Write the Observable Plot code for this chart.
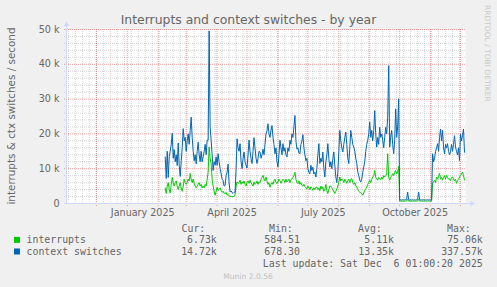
<!DOCTYPE html>
<html>
<head>
<meta charset="utf-8">
<script src="https://cdn.jsdelivr.net/npm/d3@7"></script>
<script src="https://cdn.jsdelivr.net/npm/@observablehq/plot@0.6"></script>
<style>
  html, body { margin: 0; padding: 0; background: #f0f0f0; }
  #chart svg { display: block; }
</style>
</head>
<body>
<div id="chart"></div>
<script>
const DAY = 864e5;
const graphStart = new Date(Date.UTC(2024, 10, 1, 1, 0, 20));
const graphEnd = new Date(Date.UTC(2025, 11, 6, 1, 0, 20));
const firstSample = Date.UTC(2025, 1, 8, 1, 0, 0);

// daily values, thousands per second (from 2025-02-08 to 2025-12-05)
const interrupts = [
  4.4, 2.9, 5, 6, 4, 3, 5.5, 7.5, 6, 5,
  6, 6.5, 5, 4, 5, 6, 4.5, 3.5, 5, 7,
  6, 5.5, 6, 7, 6.5, 8.6, 7, 6, 7, 5.8,
  5, 4.5, 5, 5.5, 6, 5, 5.5, 4.5, 5, 4.5,
  5.5, 5, 7, 9, 16.2, 13, 11.4, 7, 5, 3.5,
  2.4, 3.5, 4.7, 3.8, 4, 4.5, 3.8, 3.2, 3.5, 3,
  2.8, 3.2, 2.4, 2.6, 2.2, 2, 2.1, 1.9, 2, 2,
  2.5, 5, 6.2, 5.8, 6, 6.7, 5.5, 6.2, 5.8, 6.5,
  5.5, 5, 6, 6.5, 5.8, 6.7, 6, 5.5, 5, 6.2,
  5.5, 5.8, 6.5, 5.5, 6.2, 6, 7, 7.5, 8.1, 7,
  6.5, 7.6, 6.5, 5.5, 6, 4.7, 5.5, 6, 5.5, 6.5,
  7, 6, 5.8, 6.2, 7, 6.5, 5.8, 6.5, 7, 6.7,
  6, 7, 6.2, 6.5, 7, 6, 6.8, 7, 7.5, 8,
  9, 7, 6, 5.7, 6.5, 5.5, 6, 5.2, 5, 5.5,
  4.8, 4.5, 4.2, 5, 4.5, 4, 4.8, 4.3, 3.8, 4.5,
  4, 4.7, 4.7, 4, 4.5, 3.7, 5, 4.2, 4.8, 3.5,
  4, 5.5, 3.8, 2.9, 4, 5, 5, 4.5, 4, 3.5,
  2.9, 3.5, 4.2, 5, 6, 7.6, 6.5, 7, 6.7, 6,
  7, 6.5, 5.8, 6.5, 7, 6, 7, 7.2, 6, 5.5,
  6, 5.2, 4.7, 4, 3.5, 3.3, 3, 2.8, 2.4, 3,
  3.8, 4.2, 4.7, 5.5, 6, 6.7, 6, 7, 7.6, 8,
  9.5, 7.5, 7, 6.7, 7.5, 7, 6.8, 7.6, 7, 8,
  7.6, 8, 8.5, 14.3, 7.5, 6.7, 7.5, 8, 8.6, 8,
  9, 9.5, 8.5, 9, 10.7, 0.7, 0.7, 0.65, 0.7, 0.7,
  0.65, 0.7, 0.75, 1.2, 0.7, 0.65, 0.7, 0.7, 0.65, 0.7,
  0.7, 0.65, 0.7, 0.75, 1.2, 0.7, 0.65, 0.7, 0.7, 0.65,
  0.7, 0.7, 0.65, 0.7, 0.7, 0.65, 0.7, 0.7, 5.8, 6.2,
  6.7, 6, 7.6, 7, 8, 8.6, 7, 7.5, 6.7, 7.5,
  8, 7, 8.1, 7.5, 7, 7.1, 6.5, 7.5, 7.6, 7,
  6.5, 7, 5.8, 6.5, 7, 7.6, 8, 8.5, 9, 8,
  6.73
];
const ctxSwitches = [
  13.4, 7.2, 15, 7.5, 13.5, 15, 17, 20.2, 13, 15.5,
  12, 14, 10.9, 17.4, 11, 7.8, 12, 16, 21.5, 18,
  19, 15, 18, 20, 17, 21, 24.8, 19, 15, 12.3,
  14, 11.4, 15, 17.6, 14, 12, 15, 12, 13.4, 15,
  17, 14, 18.2, 18.2, 49.6, 22, 18.2, 14, 9.5, 12,
  11, 13.4, 11, 14.3, 12, 10, 8.5, 7, 6.6, 5,
  5.2, 8, 9, 11.3, 6, 3.3, 3.6, 3.1, 2.9, 3.2,
  3.3, 10, 18.6, 16, 15, 17.2, 12, 10, 13, 14.8,
  12, 11, 10.2, 14, 18.2, 15, 13, 11.5, 15, 18.9,
  16, 13, 11.5, 13, 15, 14.8, 13, 14, 15.6, 14,
  17, 20, 21, 22.9, 20, 19, 21, 22.4, 19, 17,
  14.3, 16, 12, 10.5, 14, 18.2, 16, 14, 17.2, 15,
  16, 14, 13.4, 16, 15, 18.2, 17, 20, 19, 22,
  25.3, 18, 15.6, 16, 14.5, 14.3, 17, 18, 19.8, 16,
  14, 12.3, 13, 10, 9, 8.5, 11, 9.5, 10.4, 8.5,
  9, 7.6, 10, 14, 17.2, 11.5, 13, 12, 14.8, 10,
  7.6, 12, 14, 17.2, 13, 10.5, 12, 10, 13, 14.8,
  11, 7.6, 6, 9, 15, 21, 18, 16, 14.8, 17,
  19, 20.5, 17, 13, 11.5, 16, 21, 19, 17, 16.2,
  15, 13, 11.5, 9, 8, 6.7, 6.2, 7, 9, 10.5,
  12, 15, 17, 18.2, 20, 23.4, 19, 21, 18, 21,
  26.7, 20, 16.2, 19, 17, 21.9, 19, 20, 18.2, 16,
  19, 21.9, 20, 24.8, 39.6, 16.2, 19, 21, 17, 14.3,
  18, 27.2, 19, 22, 30.1, 1.0, 1.05, 1.0, 1.1, 1.0,
  1.05, 1.1, 1.2, 3.3, 1.1, 1.0, 1.05, 1.0, 1.1, 1.0,
  1.05, 1.0, 1.1, 1.2, 3.3, 1.1, 1.0, 1.05, 1.0, 1.1,
  1.0, 1.05, 1.0, 1.1, 1.0, 1.05, 1.0, 1.1, 14.3, 12,
  13, 15, 16, 17.2, 15, 19, 21.4, 18, 21, 16,
  14.3, 17, 16, 17.2, 15, 14, 14.8, 17, 15, 17,
  19.5, 16.2, 15, 14, 16, 12.3, 20, 18, 19.5, 21.4,
  14.72
];

const yTickValues = [0, 10, 20, 30, 40, 50];
const yTickLabels = ["0", "10 k", "20 k", "30 k", "40 k", "50 k"];
const yMajor = [10, 20, 30, 40, 50];
const yMinor = [2, 4, 6, 8, 12, 14, 16, 18, 22, 24, 26, 28, 32, 34, 36, 38, 42, 44, 46, 48];
const xLabelText = ["January 2025", "April 2025", "July 2025", "October 2025"];
const xLabelDates = [Date.UTC(2025, 0, 16, 12), Date.UTC(2025, 3, 16), Date.UTC(2025, 6, 16, 12), Date.UTC(2025, 9, 16, 12)].map(t => new Date(t));

const seriesNames = ["interrupts", "context switches"];
const seriesColors = ["#00CC00", "#0066B3"];
const curValues = ["6.73k", "14.72k"];
const minValues = ["584.51", "678.30"];
const avgValues = ["5.11k", "13.35k"];
const maxValues = ["75.06k", "337.57k"];
const legendHeaders = ["Cur:", "Min:", "Avg:", "Max:"];

const title = "Interrupts and context switches - by year";
const yLabel = "interrupts & ctx switches / second";
const lastUpdate = "Last update: Sat Dec  6 01:00:20 2025";
const footer = "Munin 2.0.56";
const watermark = "RRDTOOL / TOBI OETIKER";

const rows = ctxSwitches.map((v, i) => ({date: new Date(firstSample + i * DAY), ctx: v, intr: interrupts[i]}));
const months = d3.utcMonth.range(d3.utcMonth.ceil(graphStart), graphEnd);
const weeks = d3.utcSunday.range(graphStart, graphEnd);

const FONT = "'DejaVu Sans', sans-serif";
const MONO = "'DejaVu Sans Mono', monospace";
const TXT = "#666666";
const AXIS = "#CFD6F8";
const GRID = "rgba(143,143,143,0.38)";
const MGRID = "rgba(222,79,79,0.55)";

const chart = Plot.plot({
  width: 497, height: 287,
  marginLeft: 66, marginRight: 32, marginTop: 29, marginBottom: 84,
  x: {type: "utc", domain: [graphStart, graphEnd], axis: null},
  y: {domain: [0, 50], axis: null},
  style: {background: "#f0f0f0", fontFamily: FONT, overflow: "visible"},
  marks: [
    Plot.frame({fill: "#ffffff", stroke: "none"}),
    Plot.ruleY(yMinor, {stroke: GRID, strokeDasharray: "1,1", insetLeft: -2}),
    Plot.ruleX(weeks, {stroke: GRID, strokeDasharray: "1,1", insetBottom: -2}),
    Plot.ruleY(yMajor, {stroke: MGRID, strokeDasharray: "1,1", insetLeft: -2}),
    Plot.ruleX(months, {stroke: MGRID, strokeDasharray: "1,1", insetBottom: -3}),
    Plot.line(rows, {x: "date", y: "intr", stroke: seriesColors[0], strokeWidth: 1}),
    Plot.line(rows, {x: "date", y: "ctx", stroke: seriesColors[1], strokeWidth: 1}),
    Plot.ruleY([0], {stroke: AXIS, insetRight: -5, insetLeft: -2}),
    Plot.ruleX([graphStart], {stroke: AXIS, insetTop: -4}),
    Plot.dot([graphStart], {x: d => d, y: () => 50, symbol: "triangle", r: 2, fill: AXIS, stroke: "none", dy: -5}),
    Plot.dot([graphEnd], {x: d => d, y: () => 0, symbol: "triangle", r: 2, fill: AXIS, stroke: "none", rotate: 90, dx: 6.5}),
    Plot.text(yTickValues, {x: () => graphStart, y: d => d, text: (d, i) => yTickLabels[i], textAnchor: "end", dx: -7, fontSize: 9.6, fill: TXT, fontFamily: FONT}),
    Plot.text(xLabelDates, {x: d => d, y: () => 0, text: (d, i) => xLabelText[i], dy: 9.5, fontSize: 9.6, fill: TXT, fontFamily: FONT})
  ]
});
document.getElementById("chart").appendChild(chart);

// titles, legend and footer
const svg = d3.select(chart);
const g = svg.append("g").style("white-space", "pre").attr("text-anchor", "start");
g.append("text").attr("x", 248.5).attr("y", 24).attr("text-anchor", "middle")
  .attr("font-family", FONT).attr("font-size", 12.4).attr("fill", TXT).text(title);
g.append("text").attr("transform", "translate(14.5,116) rotate(-90)").attr("text-anchor", "middle")
  .attr("font-family", FONT).attr("font-size", 10.4).attr("fill", TXT).text(yLabel);
g.append("text").attr("transform", "translate(485,5) rotate(90)").attr("text-anchor", "start")
  .attr("font-family", FONT).attr("font-size", 7.5).attr("fill", "#c8c8c8").text(watermark);

const headerX = [181.5, 269, 358, 447];
legendHeaders.forEach((h, i) => {
  g.append("text").attr("x", headerX[i]).attr("y", 231.8).attr("text-anchor", "start").attr("font-family", MONO)
    .attr("font-size", 9.9).attr("fill", TXT).text(h);
});
const rowY = [243.4, 255];
const colRight = [216.8, 300, 394, 482.8];
seriesNames.forEach((name, i) => {
  g.append("rect").attr("x", 14).attr("y", rowY[i] - 6.5).attr("width", 6).attr("height", 6).attr("fill", seriesColors[i]);
  g.append("text").attr("x", 26.5).attr("y", rowY[i]).attr("text-anchor", "start").attr("font-family", MONO)
    .attr("font-size", 9.9).attr("fill", TXT).text(name);
  [curValues[i], minValues[i], avgValues[i], maxValues[i]].forEach((v, j) => {
    g.append("text").attr("x", colRight[j]).attr("y", rowY[i]).attr("text-anchor", "end")
      .attr("font-family", MONO).attr("font-size", 9.9).attr("fill", TXT).text(v);
  });
});
g.append("text").attr("x", 482.8).attr("y", 267.3).attr("text-anchor", "end")
  .attr("font-family", MONO).attr("font-size", 9.9).attr("fill", TXT).text(lastUpdate);
g.append("text").attr("x", 248).attr("y", 279).attr("text-anchor", "middle")
  .attr("font-family", FONT).attr("font-size", 7.6).attr("fill", "#c0c0c0").text(footer);
</script>
</body>
</html>
